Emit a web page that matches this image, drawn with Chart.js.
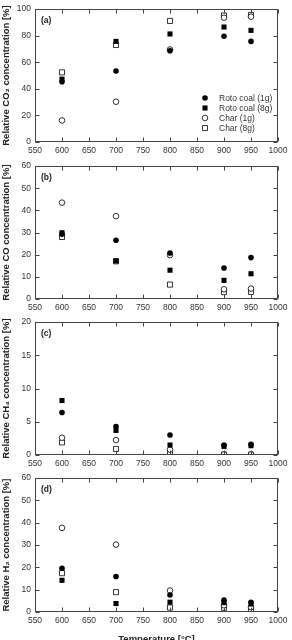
<!DOCTYPE html>
<html>
<head>
<meta charset="utf-8">
<script src="https://cdn.jsdelivr.net/npm/chart.js@4/dist/chart.umd.min.js"></script>
<style>
  html, body { margin: 0; padding: 0; background: #fff; width: 292px; height: 640px; overflow: hidden; }
  canvas { position: absolute; left: 0; }
</style>
</head>
<body>
<canvas id="chartA" width="292" height="160" style="top:0px"></canvas>
<canvas id="chartB" width="292" height="160" style="top:157px"></canvas>
<canvas id="chartC" width="292" height="160" style="top:313px"></canvas>
<canvas id="chartD" width="292" height="176" style="top:469px"></canvas>
<script>
// temperatures [°C]
const temperatures = [600, 700, 800, 900, 950];
const seriesNames = ['Roto coal (1g)', 'Roto coal (8g)', 'Char (1g)', 'Char (8g)'];
const xTicks = [550, 600, 650, 700, 750, 800, 850, 900, 950, 1000];

// (a) CO2 [%]
const co2Roto1 = [45.3, 53.4, 68.7, 79.6, 75.7];
const co2Roto8 = [47.3, 75.7, 81.3, 86.5, 84.0];
const co2Char1 = [16.2, 30.3, 69.6, 93.5, 94.3];
const co2Char8 = [52.4, 73.0, 91.1, 95.2, 95.6];

// (b) CO [%]
const coRoto1 = [29.3, 26.5, 20.8, 14.0, 18.7];
const coRoto8 = [29.9, 17.2, 13.0, 8.4, 11.4];
const coChar1 = [43.5, 37.4, 19.8, 4.4, 4.7];
const coChar8 = [28.0, 17.0, 6.5, 3.1, 3.2];

// (c) CH4 [%]
const ch4Roto1 = [6.4, 4.3, 3.0, 1.5, 1.6];
const ch4Roto8 = [8.2, 3.7, 1.5, 1.3, 1.4];
const ch4Char1 = [2.6, 2.25, 0.8, 0.1, 0.1];
const ch4Char8 = [1.9, 0.9, 0.4, 0.05, 0.05];

// (d) H2 [%]
const h2Roto1 = [19.6, 15.9, 7.6, 5.3, 4.4];
const h2Roto8 = [14.2, 3.8, 4.4, 4.2, 3.6];
const h2Char1 = [37.7, 30.2, 9.6, 3.0, 2.2];
const h2Char8 = [17.4, 8.9, 2.0, 1.9, 1.2];

const FONT = "'Liberation Sans', Arial, sans-serif";
const INK = '#333';

// marker look for each series, same order as seriesNames
const markers = [
    { pointStyle: 'circle', filled: true, radius: 2.8 },
    { pointStyle: 'rect', filled: true, radius: 3.6 },
    { pointStyle: 'circle', filled: false, radius: 2.8 },
    { pointStyle: 'rect', filled: false, radius: 3.6 }
];

// frame with inward ticks on all four sides, panel letter, inside legend
const panelDecor = {
    id: 'panelDecor',
    afterDatasetsDraw(chart, args, opts) {
        const { ctx, chartArea: a, scales: { x, y } } = chart;
        const L = Math.round(a.left) + 0.5, R = Math.round(a.right) - 0.5;
        const T = Math.round(a.top) + 0.5, B = Math.round(a.bottom) - 0.5;
        ctx.save();
        ctx.strokeStyle = '#444';
        ctx.lineWidth = 1;
        ctx.strokeRect(L, T, R - L, B - T);
        ctx.beginPath();
        x.ticks.forEach(t => {
            const px = Math.round(x.getPixelForValue(t.value)) + 0.5;
            ctx.moveTo(px, B); ctx.lineTo(px, B - 4);
            ctx.moveTo(px, T); ctx.lineTo(px, T + 4);
        });
        y.ticks.forEach(t => {
            const py = Math.round(y.getPixelForValue(t.value)) + 0.5;
            ctx.moveTo(L, py); ctx.lineTo(L + 4, py);
            ctx.moveTo(R, py); ctx.lineTo(R - 4, py);
        });
        ctx.stroke();

        // panel letter
        ctx.fillStyle = '#222';
        ctx.font = 'bold 8.5px ' + FONT;
        ctx.textBaseline = 'middle';
        ctx.textAlign = 'left';
        ctx.fillText(opts.letter, a.left + 6, a.top + 11.5);

        if (opts.legend) {
            ctx.font = '8.5px ' + FONT;
            const rows = [44, 34, 24, 14];
            seriesNames.forEach((name, i) => {
                const m = markers[i];
                const mx = a.right - 73, my = a.bottom - rows[i];
                ctx.beginPath();
                if (m.pointStyle === 'circle') {
                    ctx.arc(mx, my, m.radius, 0, Math.PI * 2);
                } else {
                    const s = m.radius * Math.SQRT1_2;
                    ctx.rect(mx - s, my - s, 2 * s, 2 * s);
                }
                if (m.filled) { ctx.fillStyle = '#000'; ctx.fill(); }
                else { ctx.strokeStyle = '#000'; ctx.lineWidth = 0.8; ctx.stroke(); }
                ctx.fillStyle = INK;
                ctx.fillText(name, a.right - 59, my + 0.5);
            });
        }
        ctx.restore();
    }
};

function makePanel(id, letter, yTitle, yMax, yStep, series, plotH, xHeight, showXTitle, showLegend) {
    const datasets = series.map((vals, i) => ({
        label: seriesNames[i],
        data: temperatures.map((t, k) => ({ x: t, y: vals[k] })),
        pointStyle: markers[i].pointStyle,
        pointRadius: markers[i].radius,
        pointHoverRadius: markers[i].radius,
        pointBackgroundColor: markers[i].filled ? '#000' : '#fff',
        pointBorderColor: '#000',
        pointBorderWidth: markers[i].filled ? 0 : 0.8,
        showLine: false
    }));

    return new Chart(document.getElementById(id), {
        type: 'scatter',
        data: { datasets },
        options: {
            responsive: false,
            animation: false,
            devicePixelRatio: 1,
            layout: { padding: { top: 6, right: 14, left: 0, bottom: 0 } },
            plugins: {
                legend: { display: false },
                tooltip: { enabled: false },
                panelDecor: { letter, legend: showLegend }
            },
            scales: {
                x: {
                    type: 'linear',
                    min: 550, max: 1000,
                    afterBuildTicks: s => { s.ticks = xTicks.map(v => ({ value: v })); },
                    grid: { display: false, drawTicks: false },
                    border: { display: false },
                    ticks: {
                        color: INK, font: { family: FONT, size: 8.5 }, padding: 4,
                        maxRotation: 0, autoSkip: false,
                        callback: v => String(v)
                    },
                    title: {
                        display: showXTitle,
                        text: 'Temperature [°C]',
                        color: '#222',
                        font: { family: FONT, size: 9.5, weight: 'bold' },
                        padding: { top: 0, bottom: 0 }
                    },
                    afterFit: s => { s.height = xHeight; }
                },
                y: {
                    min: 0, max: yMax,
                    ticks: { stepSize: yStep, color: INK, font: { family: FONT, size: 8.5 }, padding: 4 },
                    grid: { display: false, drawTicks: false },
                    border: { display: false },
                    title: {
                        display: true,
                        text: yTitle,
                        color: '#222',
                        font: { family: FONT, size: 9.5, weight: 'bold' },
                        padding: { top: 1, bottom: 0 }
                    },
                    afterFit: s => { s.width = 35; }
                }
            }
        },
        plugins: [panelDecor]
    });
}

makePanel('chartA', '(a)', 'Relative CO\u2082 concentration [%]', 100, 20,
    [co2Roto1, co2Roto8, co2Char1, co2Char8], 136, 18, false, true);
makePanel('chartB', '(b)', 'Relative CO concentration [%]', 60, 10,
    [coRoto1, coRoto8, coChar1, coChar8], 136, 18, false, false);
makePanel('chartC', '(c)', 'Relative CH\u2084 concentration [%]', 20, 5,
    [ch4Roto1, ch4Roto8, ch4Char1, ch4Char8], 136, 18, false, false);
makePanel('chartD', '(d)', 'Relative H\u2082 concentration [%]', 60, 10,
    [h2Roto1, h2Roto8, h2Char1, h2Char8], 137, 33, true, false);
</script>
</body>
</html>
